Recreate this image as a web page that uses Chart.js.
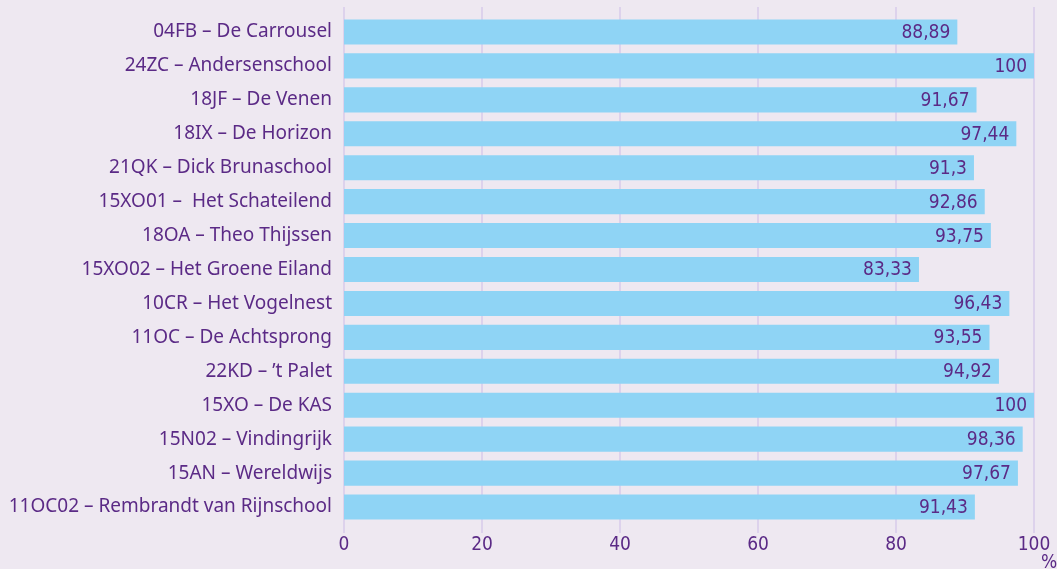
<!DOCTYPE html>
<html>
<head>
<meta charset="utf-8">
<script src="https://cdn.jsdelivr.net/npm/chart.js@4"></script>
<style>
    html, body { margin: 0; padding: 0; background: #eee8f1; }
    .chart-wrap { width: 1057px; height: 569px; position: relative; }
</style>
</head>
<body>
<div class="chart-wrap"><canvas id="chart"></canvas></div>
<script>
'use strict';

// =========================================================
// DATA
// =========================================================

const schools = [
    '04FB – De Carrousel',
    '24ZC – Andersenschool',
    '18JF – De Venen',
    '18IX – De Horizon',
    '21QK – Dick Brunaschool',
    '15XO01 –  Het Schateilend',
    '18OA – Theo Thijssen',
    '15XO02 – Het Groene Eiland',
    '10CR – Het Vogelnest',
    '11OC – De Achtsprong',
    '22KD – ’t Palet',
    '15XO – De KAS',
    '15N02 – Vindingrijk',
    '15AN – Wereldwijs',
    '11OC02 – Rembrandt van Rijnschool',
];

const percentages = [88.89, 100, 91.67, 97.44, 91.3, 92.86, 93.75, 83.33, 96.43, 93.55, 94.92, 100, 98.36, 97.67, 91.43];

const xTicks = [0, 20, 40, 60, 80, 100];
const axisUnit = '%';


// =========================================================
// STYLE
// =========================================================

const PURPLE = '#5b2a86';
const BAR_BLUE = '#8fd4f5';
const GRID = '#ddd2ec';
const LABEL_FONT = '"Noto Sans", "Open Sans", sans-serif';
const NUMBER_FONT = '"DejaVu Sans Condensed", "Liberation Sans Narrow", sans-serif';

const formatValue = (value) => String(value).replace('.', ',');


// =========================================================
// PLUGIN: grid lines (a bit longer than the plot area)
// =========================================================

const gridLines = {
    id: 'gridLines',
    beforeDatasetsDraw(chart) {
        const ctx = chart.ctx;
        const xScale = chart.scales.x;
        const area = chart.chartArea;

        ctx.save();
        ctx.strokeStyle = GRID;
        ctx.lineWidth = 2;

        xTicks.forEach((tick) => {
            const x = xScale.getPixelForValue(tick);
            ctx.beginPath();
            ctx.moveTo(x, area.top - 8);
            ctx.lineTo(x, area.bottom + 9);
            ctx.stroke();
        });

        ctx.restore();
    },
};


// =========================================================
// PLUGIN: values inside the bar ends + unit under the axis
// =========================================================

const valueLabels = {
    id: 'valueLabels',
    afterDatasetsDraw(chart) {
        const ctx = chart.ctx;
        const meta = chart.getDatasetMeta(0);

        ctx.save();
        ctx.fillStyle = PURPLE;
        ctx.font = `19px ${NUMBER_FONT}`;
        ctx.textAlign = 'right';
        ctx.textBaseline = 'middle';

        meta.data.forEach((bar, index) => {
            ctx.fillText(formatValue(percentages[index]), bar.x - 7, bar.y + 1);
        });

        const xScale = chart.scales.x;
        ctx.textAlign = 'center';
        ctx.textBaseline = 'middle';
        ctx.fillText(axisUnit, xScale.right + 15, 563);
        ctx.restore();
    },
};


// =========================================================
// CHART
// =========================================================

const canvas = document.querySelector('#chart');

new Chart(canvas, {
    type: 'bar',
    data: {
        labels: schools,
        datasets: [
            {
                data: percentages,
                backgroundColor: BAR_BLUE,
                borderWidth: 0,
                categoryPercentage: 0.74,
                barPercentage: 1,
            },
        ],
    },
    options: {
        indexAxis: 'y',
        responsive: true,
        maintainAspectRatio: false,
        animation: false,
        layout: {
            padding: { top: 15, right: 23, bottom: 0, left: 0 },
        },
        plugins: {
            legend: { display: false },
            tooltip: { enabled: false },
        },
        scales: {
            x: {
                min: 0,
                max: 100,
                afterBuildTicks: (scale) => {
                    scale.ticks = xTicks.map((value) => ({ value }));
                },
                afterFit: (scale) => {
                    scale.height = 45;
                    scale.paddingLeft = 0;
                    scale.paddingRight = 0;
                },
                grid: { display: false, drawTicks: false },
                border: { display: false },
                ticks: {
                    color: PURPLE,
                    font: { family: NUMBER_FONT, size: 19 },
                    padding: 10,
                    maxRotation: 0,
                },
            },
            y: {
                afterFit: (scale) => {
                    scale.width = 344;
                    scale.paddingTop = 0;
                    scale.paddingBottom = 0;
                },
                grid: { display: false, drawTicks: false },
                border: { display: false },
                ticks: {
                    color: PURPLE,
                    font: { family: LABEL_FONT, size: 19 },
                    padding: 12,
                },
            },
        },
    },
    plugins: [gridLines, valueLabels],
});
</script>
</body>
</html>
